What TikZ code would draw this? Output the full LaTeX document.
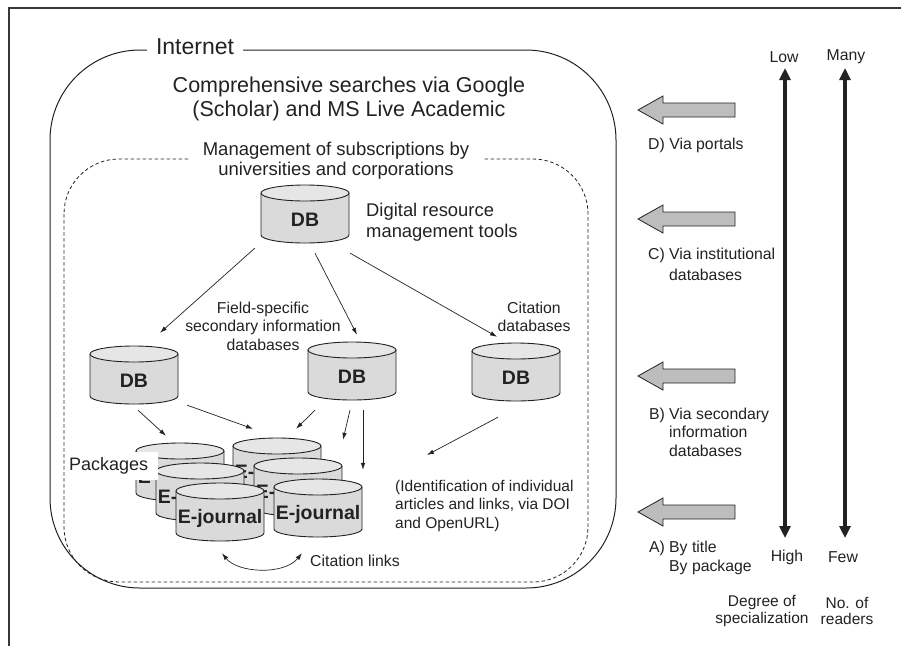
\documentclass[tikz,border=0pt]{standalone}
\usepackage{fontspec}
\setmainfont{Liberation Sans}
\usetikzlibrary{arrows.meta}
\definecolor{cylbody}{HTML}{DADADA}
\definecolor{cyltop}{HTML}{E6E6E6}
\definecolor{linec}{HTML}{222222}
\definecolor{arrowfill}{HTML}{BDBDBD}
\tikzset{
  cylline/.style={draw=linec, line width=0.9pt},
  cyllabel/.style={font=\bfseries\fontsize{19.5}{21}\selectfont, text=linec, inner sep=0pt},
  cylbox/.style={inner sep=0pt, minimum width=88pt, minimum height=58pt},
  conn/.style={draw=linec, line width=0.7pt, -{Latex[length=7pt,width=4.5pt]}},
  lbl/.style={font=\fontsize{15.8}{18.6}\selectfont, text=linec, inner sep=0pt, align=left},
  lblc/.style={lbl, align=center},
  midlbl/.style={font=\fontsize{18.4}{21}\selectfont, text=linec, inner sep=0pt, align=left},
  blockarr/.style={draw=linec, line width=0.8pt, fill=arrowfill, line join=miter},
  levarrow/.style={draw=linec, line width=3.5pt, {Triangle[length=12pt,width=11pt]}-{Triangle[length=12pt,width=11pt]}},
  framel/.style={draw=linec!90, line width=1.1pt},
}
\newcommand\dbcyl[4]{%
  \begin{scope}[shift={(#2,#3)}]
    \draw[cylline, fill=cylbody] (-44,8) -- (-44,50) .. controls (-44,54.42) and (-24.3,58) .. (0,58) .. controls (24.3,58) and (44,54.42) .. (44,50) -- (44,8);
    \draw[cylline, fill=cyltop] (0,8) ellipse [x radius=44, y radius=8];
    \node[cyllabel] at (0,35) {#4};
    \node[cylbox] (#1) at (0,29) {};
  \end{scope}}
\newcommand\blockarrow[1]{%
  \draw[blockarr] (638,#1) -- (663,{#1-14}) -- (663,{#1-7}) -- (735,{#1-7}) -- (735,{#1+7}) -- (663,{#1+7}) -- (663,{#1+14}) -- cycle;}
\begin{document}
\begin{tikzpicture}[x=1pt,y=-1pt]
\useasboundingbox (0,0) rectangle (901,646);
% frame
\draw[framel] (901,8) -- (9,8) -- (9,646);
% Internet box
\draw[draw=linec, line width=1pt, rounded corners=90pt] (50,50) rectangle (616,588);
\node[fill=white, inner xsep=9pt, inner ysep=2pt, font=\fontsize{23}{26}\selectfont, text=linec] (internet) at (195,47) {Internet};
\node[font=\fontsize{21.5}{23.5}\selectfont, text=linec, align=center, inner sep=0pt] (comp) at (349,99) {Comprehensive searches via Google\\(Scholar) and MS Live Academic};
% dashed box
\draw[draw=linec, line width=0.8pt, dash pattern=on 3.5pt off 2.5pt, rounded corners=55pt] (64,159) rectangle (588,582);
\node[fill=white, inner xsep=14pt, inner ysep=2pt, font=\fontsize{18.5}{20}\selectfont, text=linec, align=center] (mgmt) at (336,161) {Management of subscriptions by\\universities and corporations};
% databases
\dbcyl{dbtop}{305}{185}{DB}
\dbcyl{dbl}{134}{346}{DB}
\dbcyl{dbm}{352}{342}{DB}
\dbcyl{dbr}{516}{343}{DB}
\node[midlbl, anchor=west] (drm) at (366,222) {Digital resource\\management tools};
\node[lblc] (field) at (263,326) {Field-specific\\secondary information\\databases};
\node[lblc] (citdb) at (534,317) {Citation\\databases};
% e-journals
\dbcyl{ej1}{180}{443}{E-journal}
\dbcyl{ej2}{277}{438}{E-journal}
\dbcyl{ej3}{200}{463}{E-journal}
\dbcyl{ej4}{298}{458}{E-journal}
\dbcyl{ej5}{220}{483}{E-journal}
\dbcyl{ej6}{318}{479}{E-journal}
\node[fill=white, anchor=west, inner xsep=4pt, inner ysep=0pt, minimum height=28pt, text width=85pt, font=\fontsize{18}{20}\selectfont, text=linec] (pkg) at (65,466) {Packages};
\node[lbl, anchor=north west, font=\fontsize{15.5}{18.4}\selectfont] (ident) at (395,480) {(Identification of individual\\articles and links, via DOI\\and OpenURL)};
\node[lbl, anchor=west] (citl) at (310,561) {Citation links};
% connectors
\draw[conn] ([shift={(-6,5)}]dbtop.south west) -- ([shift={(26,-13)}]dbl.north);
\draw[conn] ([shift={(10,10)}]dbtop.south) -- ([shift={(5,-7)}]dbm.north);
\draw[conn] ([shift={(1,10)}]dbtop.south east) -- ([shift={(-19,-6)}]dbr.north);
\draw[conn] ([shift={(4,6)}]dbl.south) -- ([shift={(-14,-7)}]ej1.north);
\draw[conn] ([shift={(9,1)}]dbl.south east) -- ([shift={(-24,-9)}]ej2.north);
\draw[conn] ([shift={(-37,10)}]dbm.south) -- ([shift={(19,-9)}]ej2.north);
\draw[conn] ([shift={(-2,10)}]dbm.south) -- ([shift={(45,-18)}]ej4.north);
\draw[conn] ([shift={(11,10)}]dbm.south) -- ([shift={(45,-9)}]ej6.north);
\draw[conn] ([shift={(-18,16)}]dbr.south) -- ([shift={(32,-25)}]ident.north west);
\draw[draw=linec, line width=0.7pt, {Latex[length=7pt,width=4.5pt]}-{Latex[length=7pt,width=4.5pt]}] ([shift={(2,12)}]ej5.south) .. controls +(16,20) and +(-18,22) .. ([shift={(-16,16)}]ej6.south);
% right side
\blockarrow{110}
\blockarrow{219}
\blockarrow{376}
\blockarrow{512}
\node[lbl, anchor=west] (labD) at (648,145) {D) Via portals};
\node[lbl, anchor=west, font=\fontsize{15.8}{21}\selectfont] (labC) at (669,264) {\llap{C) }Via institutional\\databases};
\node[lbl, anchor=west] (labB) at (669,432) {\llap{B) }Via secondary\\information\\databases};
\node[lbl, anchor=west] (labA) at (669,558) {\llap{A) }By title\\By package};
\node[lblc] (low) at (784,57) {Low};
\node[lblc] (many) at (846,57) {Many};
\node[lblc] (high) at (787,557) {High};
\node[lblc] (few) at (843,557) {Few};
\coordinate (degtop) at (785,68);
\coordinate (degbot) at (785,538);
\coordinate (readtop) at (845,68);
\coordinate (readbot) at (845,538);
\draw[levarrow] (degtop) -- (degbot);
\draw[levarrow] (readtop) -- (readbot);
\node[lblc, font=\fontsize{15.5}{16.8}\selectfont] (deg) at (762,611) {Degree of\\specialization};
\node[lblc, font=\fontsize{15.5}{16.8}\selectfont] (readers) at (847,611) {No. of\\readers};
\end{tikzpicture}
\end{document}
